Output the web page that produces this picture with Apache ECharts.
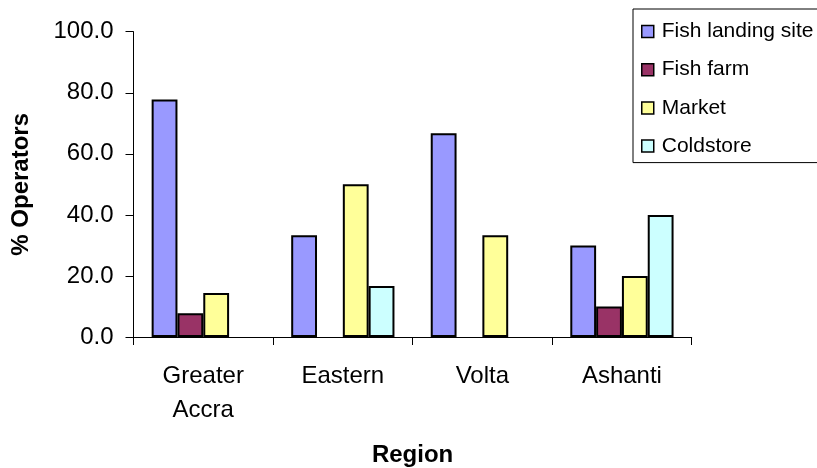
<!DOCTYPE html>
<html>
<head>
<meta charset="utf-8">
<script src="https://cdn.jsdelivr.net/npm/echarts@6/dist/echarts.min.js"></script>
<style>
  html, body { margin: 0; padding: 0; background: #fff; }
  #chart { width: 817px; height: 468px; }
</style>
</head>
<body>
<div id="chart"></div>
<script>
// Share of operators by source, per region (%)
const regions = ['Greater\nAccra', 'Eastern', 'Volta', 'Ashanti'];
const seriesNames = ['Fish landing site', 'Fish farm', 'Market', 'Coldstore'];
const fishLandingSite = [77.8, 33.3, 66.7, 30.0];
const fishFarm = [7.8, null, null, 10.0];
const market = [14.4, 50.0, 33.3, 20.0];
const coldstore = [null, 16.7, null, 40.0];
const yTicks = [0, 20, 40, 60, 80, 100];

const colors = ['#9999FF', '#993366', '#FFFF99', '#CCFFFF'];
const values = [fishLandingSite, fishFarm, market, coldstore];
const font = 'Liberation Sans, Arial, sans-serif';

const chart = echarts.init(document.getElementById('chart'), null, { renderer: 'canvas' });

chart.setOption({
  animation: false,
  backgroundColor: '#ffffff',
  textStyle: { fontFamily: font },
  grid: { left: 133.5, right: 125.3, top: 31.7, bottom: 131, containLabel: false, outerBoundsMode: 'none' },
  legend: {
    orient: 'vertical',
    left: 633,
    top: 9,
    padding: [12, 30, 6, 8],
    itemGap: 17.2,
    itemWidth: 12,
    itemHeight: 12,
    borderColor: '#000',
    borderWidth: 1,
    icon: 'rect',
    itemStyle: { borderColor: '#000', borderWidth: 1.5 },
    textStyle: { fontSize: 21, color: '#000', fontFamily: font, lineHeight: 20, padding: [0, 0, 0, 3] },
    data: seriesNames
  },
  xAxis: {
    type: 'category',
    data: regions,
    name: 'Region',
    nameLocation: 'middle',
    nameGap: 106,
    nameTextStyle: { fontSize: 24, fontWeight: 'bold', color: '#000', fontFamily: font },
    axisLine: { lineStyle: { color: '#000', width: 1 } },
    axisTick: { show: true, length: 8, lineStyle: { color: '#000' } },
    axisLabel: { fontSize: 24, color: '#000', margin: 22, lineHeight: 34, fontFamily: font, interval: 0 },
    splitLine: { show: false }
  },
  yAxis: {
    type: 'value',
    min: yTicks[0],
    max: yTicks[yTicks.length - 1],
    interval: yTicks[1] - yTicks[0],
    name: '% Operators',
    nameLocation: 'middle',
    nameRotate: 90,
    nameGap: 100,
    nameTextStyle: { fontSize: 24, fontWeight: 'bold', color: '#000', fontFamily: font },
    axisLine: { show: true, lineStyle: { color: '#000', width: 1 } },
    axisTick: { show: true, length: 8, lineStyle: { color: '#000' } },
    axisLabel: { fontSize: 24, color: '#000', margin: 20, fontFamily: font,
      formatter: v => v.toFixed(1) },
    splitLine: { show: false }
  },
  series: seriesNames.map((name, i) => ({
    name,
    type: 'bar',
    data: values[i],
    barGap: '0%',
    barCategoryGap: '26%',
    itemStyle: { color: colors[i], borderColor: '#000', borderWidth: 2 }
  }))
});
</script>
</body>
</html>
